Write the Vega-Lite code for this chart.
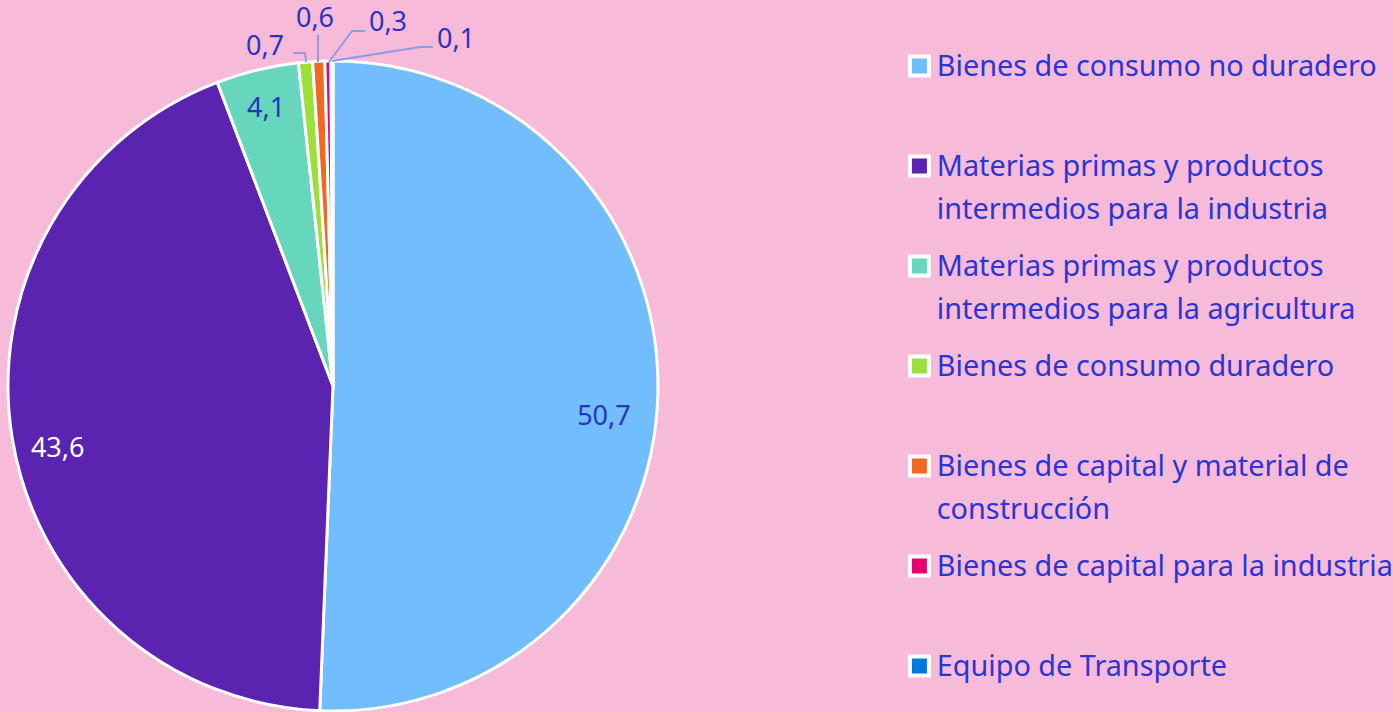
{
  "$schema": "https://vega.github.io/schema/vega-lite/v6.json",
  "width": 666,
  "height": 652,
  "autosize": {"type": "none"},
  "padding": {"top": 60, "left": 0, "right": 727, "bottom": 0},
  "background": "#f7bad8",
  "config": {
    "view": {"stroke": null},
    "locale": {"number": {"decimal": ",", "thousands": ".", "grouping": [3], "currency": ["$", ""]}},
    "text": {"font": "Noto Sans", "fontSize": 27}
  },
  "datasets": {
    "sectores": [
      {"categoria": "Bienes de consumo no duradero", "valor": 50.7, "orden": 1},
      {"categoria": "Materias primas y productos intermedios para la industria", "valor": 43.6, "orden": 2},
      {"categoria": "Materias primas y productos intermedios para la agricultura", "valor": 4.1, "orden": 3},
      {"categoria": "Bienes de consumo duradero", "valor": 0.7, "orden": 4},
      {"categoria": "Bienes de capital y material de construcción", "valor": 0.6, "orden": 5},
      {"categoria": "Bienes de capital para la industria", "valor": 0.3, "orden": 6},
      {"categoria": "Equipo de Transporte", "valor": 0.1, "orden": 7}
    ],
    "guias": [
      {"guia": "a", "paso": 1, "x": -40, "y": 333},
      {"guia": "a", "paso": 2, "x": -28, "y": 333},
      {"guia": "a", "paso": 3, "x": -27, "y": 324},
      {"guia": "b", "paso": 1, "x": -15, "y": 351},
      {"guia": "b", "paso": 2, "x": -15, "y": 324},
      {"guia": "c", "paso": 1, "x": 32, "y": 355},
      {"guia": "c", "paso": 2, "x": 19, "y": 355},
      {"guia": "c", "paso": 3, "x": -4, "y": 324},
      {"guia": "d", "paso": 1, "x": 100, "y": 339},
      {"guia": "d", "paso": 2, "x": 87, "y": 339},
      {"guia": "d", "paso": 3, "x": -1, "y": 325}
    ],
    "rotulos": [
      {"valor": 0.7, "x": -68, "y": 339},
      {"valor": 0.6, "x": -18, "y": 367},
      {"valor": 0.3, "x": 55, "y": 363},
      {"valor": 0.1, "x": 123, "y": 346}
    ]
  },
  "layer": [
    {
      "data": {"name": "sectores"},
      "mark": {"type": "arc", "outerRadius": 325, "stroke": "white", "strokeWidth": 3},
      "encoding": {
        "theta": {"field": "valor", "type": "quantitative", "stack": true},
        "order": {"field": "orden", "type": "quantitative"},
        "color": {
          "field": "categoria",
          "type": "nominal",
          "scale": {
            "domain": [
              "Bienes de consumo no duradero",
              "Materias primas y productos intermedios para la industria",
              "Materias primas y productos intermedios para la agricultura",
              "Bienes de consumo duradero",
              "Bienes de capital y material de construcción",
              "Bienes de capital para la industria",
              "Equipo de Transporte"
            ],
            "range": ["#72bdfd", "#5a23b0", "#66d7bd", "#9ddf3a", "#f26722", "#e8006f", "#0079de"]
          },
          "legend": {
            "title": null,
            "orient": "none",
            "legendX": 905,
            "legendY": -9,
            "padding": 0,
            "symbolType": "square",
            "symbolSize": 361,
            "symbolStrokeColor": "white",
            "symbolStrokeWidth": 4,
            "symbolOpacity": 1,
            "clipHeight": 30,
            "rowPadding": 26,
            "labelFont": "Noto Sans",
            "labelFontSize": 28.8,
            "labelColor": "#2b35d3",
            "labelLimit": 600,
            "labelOffset": 3,
            "labelBaseline": "alphabetic",
            "labelExpr": "datum.label == 'Materias primas y productos intermedios para la industria' ? ['Materias primas y productos', 'intermedios para la industria'] : datum.label == 'Materias primas y productos intermedios para la agricultura' ? ['Materias primas y productos', 'intermedios para la agricultura'] : datum.label == 'Bienes de capital y material de construcción' ? ['Bienes de capital y material de', 'construcción'] : [datum.label, ' ']",
            "encode": {"labels": {"update": {"lineHeight": {"value": 43}, "dy": {"value": 10}}}}
          }
        }
      }
    },
    {
      "data": {"name": "sectores"},
      "mark": {"type": "text", "radius": 278, "dx": -7, "dy": 25, "color": "#2a33c0"},
      "encoding": {
        "theta": {"field": "valor", "type": "quantitative", "stack": true},
        "order": {"field": "orden", "type": "quantitative"},
        "text": {"condition": {"test": "datum.orden == 1", "field": "valor", "format": ".1f"}, "value": ""}
      }
    },
    {
      "data": {"name": "sectores"},
      "mark": {"type": "text", "radius": 282, "dx": 3, "dy": 18, "color": "white"},
      "encoding": {
        "theta": {"field": "valor", "type": "quantitative", "stack": true},
        "order": {"field": "orden", "type": "quantitative"},
        "text": {"condition": {"test": "datum.orden == 2", "field": "valor", "format": ".1f"}, "value": ""}
      }
    },
    {
      "data": {"name": "sectores"},
      "mark": {"type": "text", "radius": 287, "dy": 2, "color": "#2a33c0"},
      "encoding": {
        "theta": {"field": "valor", "type": "quantitative", "stack": true},
        "order": {"field": "orden", "type": "quantitative"},
        "text": {"condition": {"test": "datum.orden == 3", "field": "valor", "format": ".1f"}, "value": ""}
      }
    },
    {
      "data": {"name": "guias"},
      "mark": {"type": "line", "color": "#8f9ae6", "strokeWidth": 2},
      "encoding": {
        "x": {"field": "x", "type": "quantitative", "scale": {"domain": [-333, 333], "nice": false, "zero": false}, "axis": null},
        "y": {"field": "y", "type": "quantitative", "scale": {"domain": [-326, 326], "nice": false, "zero": false}, "axis": null},
        "detail": {"field": "guia"},
        "order": {"field": "paso", "type": "quantitative"}
      }
    },
    {
      "data": {"name": "rotulos"},
      "mark": {"type": "text", "color": "#2a33c0"},
      "encoding": {
        "x": {"field": "x", "type": "quantitative"},
        "y": {"field": "y", "type": "quantitative"},
        "text": {"field": "valor", "type": "quantitative", "format": ".1f"}
      }
    }
  ]
}
